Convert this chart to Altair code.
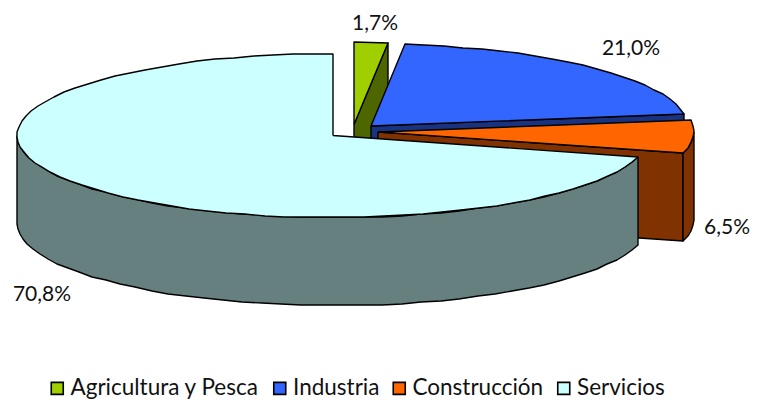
import math
import altair as alt
import pandas as pd

labels = ["Agricultura y Pesca", "Industria", "Construcción", "Servicios"]
values = [1.7, 21.0, 6.5, 70.8]
pct_text = ["1,7%", "21,0%", "6,5%", "70,8%"]
pct_x = [367, 623, 719, 34]
pct_y = [16, 41, 220, 287]
top_colors = ["#A0CF00", "#3366FF", "#FF6600", "#CCFFFF"]
side_colors = ["#4D6600", "#1A3380", "#803300", "#668080"]
wall_keys = ["wall " + name for name in labels]

# oblique projection of the exploded pie, in chart pixels
W, H = 744, 392
RX, RY, DEPTH = 316, 82, 88
CENTERS = [(346, 116.5), (363, 118), (370, 124), (325, 127.5)]
END_WALL = [True, True, True, False]
STEP = 3.6


def pt(c, deg, dy=0.0):
    a = math.radians(deg)
    return (round(c[0] + RX * math.sin(a)), round(c[1] - RY * math.cos(a) + dy))


def arc(s, e):
    n = max(2, int((e - s) / STEP) + 1)
    return [s + (e - s) * j / (n - 1) for j in range(n)]


rows = []
count = 0


def add(key, pts):
    global count
    count += 1
    closed = pts + pts[:1]
    for k, (x, y) in enumerate(closed):
        rows.append(dict(shape=count, k=k, x=x, y=y, key=key))


start = 0.0
for i, v in enumerate(values):
    s, e = start, start + v * 3.6
    start = e
    c = CENTERS[i]
    if END_WALL[i]:
        add(wall_keys[i], [c, pt(c, e), pt(c, e, DEPTH), (c[0], c[1] + DEPTH)])
    ws, we = max(s, 90), min(e, 270)
    if we > ws:
        a = arc(ws, we)
        add(wall_keys[i], [pt(c, d) for d in a] + [pt(c, d, DEPTH) for d in a[::-1]])
    add(labels[i], [c] + [pt(c, d) for d in arc(s, e)])

df = pd.DataFrame(rows)
text_df = pd.DataFrame(dict(x=pct_x, y=pct_y, t=pct_text))
xs = alt.Scale(domain=[0, W], range=[0, W])
ys = alt.Scale(domain=[0, H], range=[0, H])

shapes = alt.Chart(df).mark_line(stroke="black", strokeWidth=1.4, filled=True, strokeJoin="round").encode(
    x=alt.X("x:Q", scale=xs, axis=None),
    y=alt.Y("y:Q", scale=ys, axis=None),
    detail="shape:N",
    order="k:Q",
    fill=alt.Fill(
        "key:N",
        scale=alt.Scale(domain=labels + wall_keys, range=top_colors + side_colors),
        legend=alt.Legend(
            values=labels,
            title=None,
            orient="none",
            legendX=38,
            legendY=369,
            direction="horizontal",
            columns=4,
            columnPadding=8.5,
            symbolType="square",
            symbolSize=144,
            symbolStrokeColor="black",
            symbolStrokeWidth=1.6,
            labelFont="Lato",
            labelFontSize=22.5,
            labelColor="#111111",
            labelLimit=300,
            labelOffset=2,
        ),
    ),
)

texts = alt.Chart(text_df).mark_text(font="Lato", fontSize=21, color="#111111").encode(
    x=alt.X("x:Q", scale=xs, axis=None),
    y=alt.Y("y:Q", scale=ys, axis=None),
    text="t:N",
)

chart = (shapes + texts).properties(width=W, height=H, padding=0, autosize="none").configure_view(stroke=None)
chart.save("out.html", embed_options={"renderer": "svg", "actions": False})
